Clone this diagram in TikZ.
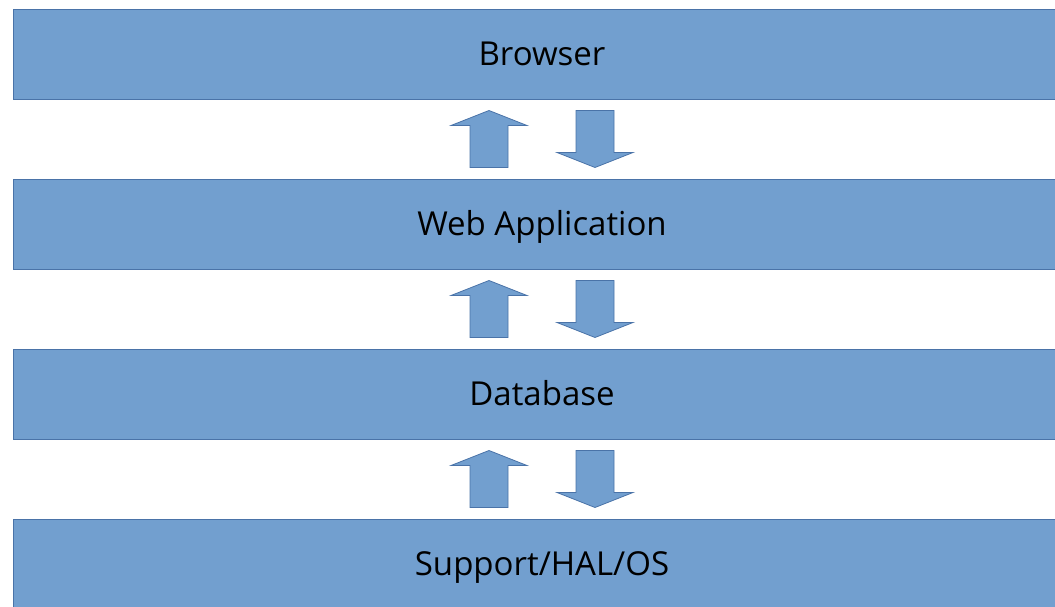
\documentclass[tikz,border=0pt]{standalone}
\usepackage{fontspec}
\setmainfont{Open Sans}
\usetikzlibrary{calc}
\definecolor{layerfill}{HTML}{729FCF}
\definecolor{layerline}{HTML}{4A73A8}
\tikzset{
  layer/.style={draw=layerline, fill=layerfill, line width=0.9pt, rectangle,
    minimum width=1058pt, minimum height=90pt, inner sep=0pt,
    font=\fontsize{33}{38}\selectfont, text=black,
    text height=23.5pt, text depth=0pt},
  flow/.style={draw=layerline, fill=layerfill, line width=0.8pt, line join=miter}
}
% block arrows: shaft half width 19, head half width 38, head length 15, length 57
\newcommand{\uparrowshape}[1]{%
  \draw[flow] ($(#1)+(-19,28.5)$) -- ($(#1)+(-19,-13.5)$) -- ($(#1)+(-38,-13.5)$)
    -- ($(#1)+(0,-28.5)$) -- ($(#1)+(38,-13.5)$) -- ($(#1)+(19,-13.5)$)
    -- ($(#1)+(19,28.5)$) -- cycle;}
\newcommand{\downarrowshape}[1]{%
  \draw[flow] ($(#1)+(-19,-28.5)$) -- ($(#1)+(-19,13.5)$) -- ($(#1)+(-38,13.5)$)
    -- ($(#1)+(0,28.5)$) -- ($(#1)+(38,13.5)$) -- ($(#1)+(19,13.5)$)
    -- ($(#1)+(19,-28.5)$) -- cycle;}
\begin{document}
\begin{tikzpicture}[x=1pt,y=-1pt]
\useasboundingbox (0,0) rectangle (1055,607);
\node[layer] (browser) at (542,54) {Browser};
\node[layer] (webapp) at (542,224) {Web Application};
\node[layer] (db) at (542,394) {Database};
\node[layer] (os) at (542,564) {Support/HAL/OS};

\foreach \y/\n in {139/a,309/b,479/c}{
  \coordinate (up\n) at (489,\y);
  \coordinate (down\n) at (595,\y);
  \uparrowshape{up\n}
  \downarrowshape{down\n}
}
\end{tikzpicture}
\end{document}
